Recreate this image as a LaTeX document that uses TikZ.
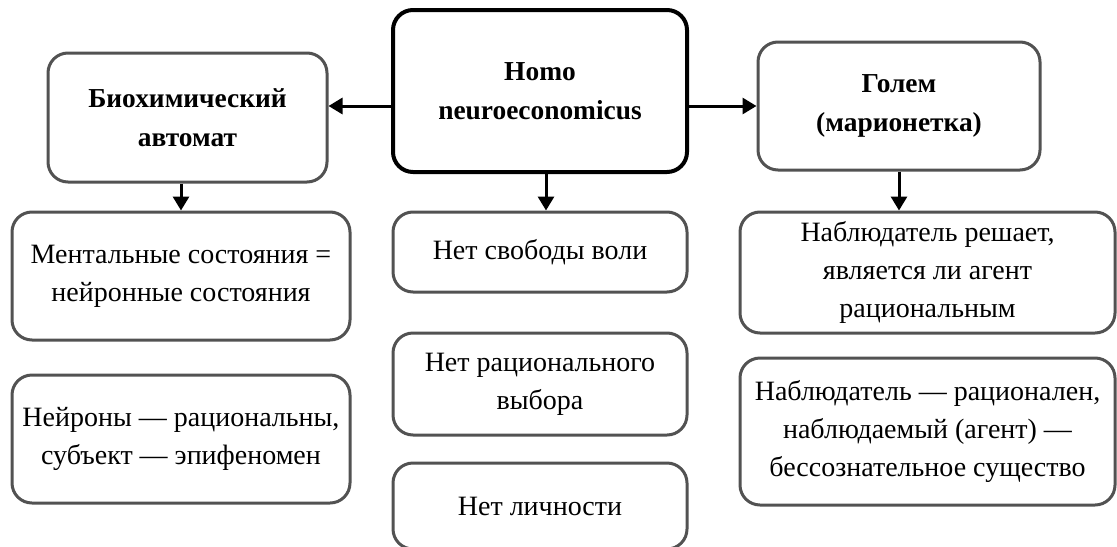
\documentclass[tikz,border=0pt]{standalone}
\usepackage{fontspec}
\setmainfont{Liberation Serif}
\usetikzlibrary{arrows.meta}
\colorlet{box edge}{black!68}
\def\boxfont{\fontsize{14}{19}\selectfont}
\def\titlefont{\fontsize{13.7}{19.5}\selectfont\bfseries}
\tikzset{box/.style={draw=box edge, line width=1.5pt, rounded corners=10pt,
        align=center, inner sep=0pt, font=\boxfont},
    titlebox/.style={box, font=\titlefont},
    headbox/.style={titlebox, draw=black, line width=2pt},
    link/.style={-{Triangle[length=7pt,width=8pt]}, line width=1.5pt}}

\begin{document}
\begin{tikzpicture}[x=0.5pt, y=-0.5pt]
    \useasboundingbox (0,0) rectangle (1117,546);
    % top row
    \node[headbox, minimum width=147pt, minimum height=81pt] (homo) at (540,91) {Homo\\neuroeconomicus};
    \node[titlebox, minimum width=139.5pt, minimum height=64.5pt] (bio) at (187.5,117.5) {Биохимический\\автомат};
    \node[titlebox, minimum width=141pt, minimum height=64pt] (golem) at (899,106) {Голем\\(марионетка)};
    % left column
    \node[box, minimum width=169pt, minimum height=64pt] (mental) at (181,276) {Ментальные состояния =\\нейронные состояния};
    \node[box, minimum width=169pt, minimum height=64pt] (neuro) at (181,439) {Нейроны — рациональны,\\субъект — эпифеномен};
    % middle column
    \node[box, minimum width=147pt, minimum height=40pt] (free) at (540,252) {Нет свободы воли};
    \node[box, minimum width=147pt, minimum height=51pt] (choice) at (540,384) {Нет рационального\\выбора};
    \node[box, minimum width=147pt, minimum height=43pt] (person) at (540,506) {Нет личности};
    % right column
    \node[box, minimum width=187.5pt, minimum height=60.5pt] (judge) at (927.5,272.5) {Наблюдатель решает,\\является ли агент\\рациональным};
    \node[box, minimum width=187.5pt, minimum height=73.5pt] (observer) at (927.5,431.5) {Наблюдатель — рационален,\\наблюдаемый (агент) —\\бессознательное существо};

    \draw[link] (homo.west |- golem) -- (bio.east |- golem);
    \draw[link] (homo.east |- golem) -- (golem.west);
    \draw[link] (bio.south -| mental) -- (mental.north);
    \draw[link] ([xshift=3pt]homo.south) -- ([xshift=3pt]free.north);
    \draw[link] (golem.south) -- (golem.south |- judge.north);
\end{tikzpicture}
\end{document}
